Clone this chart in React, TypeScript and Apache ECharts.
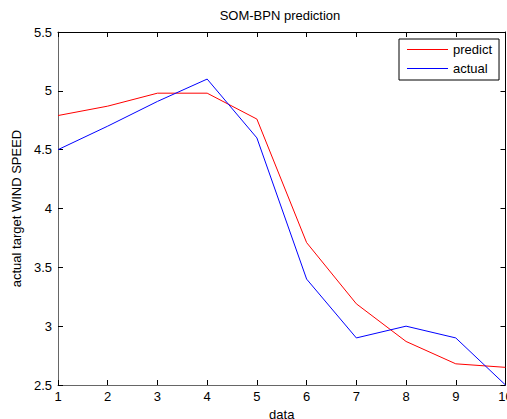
import React, { useEffect, useRef } from "react";
import * as echarts from "echarts";

const xValues = [1, 2, 3, 4, 5, 6, 7, 8, 9, 10];
const predict = [4.79, 4.87, 4.98, 4.98, 4.76, 3.71, 3.19, 2.87, 2.68, 2.65];
const actual = [4.5, 4.7, 4.91, 5.1, 4.6, 3.4, 2.9, 3.0, 2.9, 2.5];
const yTicks = [2.5, 3, 3.5, 4, 4.5, 5, 5.5];

const FONT = "'Liberation Sans', Arial, sans-serif";
const FS = 13;

export default function App() {
  const ref = useRef<HTMLDivElement>(null);
  useEffect(() => {
    if (!ref.current) return;
    const chart = echarts.init(ref.current, undefined, { renderer: "svg" });
    const pair = (ys: number[]) => xValues.map((x, i) => [x, ys[i]]);
    chart.setOption({
      animation: false,
      backgroundColor: "#ffffff",
      textStyle: { fontFamily: FONT },
      title: {
        text: "SOM-BPN prediction",
        left: 280,
        textAlign: "center",
        top: 9,
        padding: 0,
        textStyle: { fontSize: FS, fontWeight: "normal", color: "#000", fontFamily: FONT },
      },
      legend: {
        left: 399,
        top: 39,
        orient: "vertical",
        borderColor: "#000",
        borderWidth: 1,
        borderRadius: 0,
        padding: [4, 7, 5, 8],
        itemWidth: 41,
        itemHeight: 14,
        itemGap: 6,
        icon: "path://M0,0 L41,0 L41,1 L0,1 Z",
        symbolKeepAspect: true,
        textStyle: { fontSize: FS, color: "#000", fontFamily: FONT },
        data: ["predict", "actual"],
      },
      grid: { left: 58, right: 1.5, top: 32, bottom: 34, outerBoundsMode: "none", containLabel: false },
      xAxis: [
        {
          type: "value",
          min: 1,
          max: 10,
          interval: 1,
          name: "data",
          nameLocation: "middle",
          nameGap: 20,
          nameTextStyle: { fontSize: FS, lineHeight: 13, color: "#000", fontFamily: FONT, verticalAlign: "top" },
          axisLine: { show: true, lineStyle: { color: "#666", width: 1 } },
          axisTick: { show: true, inside: true, length: 5, lineStyle: { color: "#000" } },
          axisLabel: { margin: 5, fontSize: FS, color: "#000", fontFamily: FONT, hideOverlap: false },
          splitLine: { show: false },
        },
        {
          type: "value",
          position: "top",
          min: 1,
          max: 10,
          interval: 1,
          axisLine: { show: true, lineStyle: { color: "#000", width: 1 } },
          axisTick: { show: true, inside: true, length: 5, lineStyle: { color: "#000" } },
          axisLabel: { show: false },
          splitLine: { show: false },
        },
      ],
      yAxis: [
        {
          type: "value",
          min: 2.5,
          max: 5.5,
          interval: 0.5,
          name: "actual target WIND SPEED",
          nameLocation: "middle",
          nameGap: 31,
          nameTextStyle: { fontSize: FS, color: "#000", fontFamily: FONT },
          axisLine: { show: true, lineStyle: { color: "#666", width: 1 } },
          axisTick: { show: true, inside: true, length: 5, lineStyle: { color: "#000" } },
          axisLabel: {
            margin: 6,
            fontSize: FS,
            color: "#000",
            fontFamily: FONT,
            formatter: (v: number) => (yTicks.includes(v) ? String(v) : ""),
          },
          splitLine: { show: false },
        },
        {
          type: "value",
          position: "right",
          min: 2.5,
          max: 5.5,
          interval: 0.5,
          axisLine: { show: true, lineStyle: { color: "#000", width: 1 } },
          axisTick: { show: true, inside: true, length: 5, lineStyle: { color: "#000" } },
          axisLabel: { show: false },
          splitLine: { show: false },
        },
      ],
      series: [
        {
          name: "predict",
          type: "line",
          data: pair(predict),
          symbol: "none",
          lineStyle: { color: "#ff0000", width: 1 },
          itemStyle: { color: "#ff0000" },
        },
        {
          name: "actual",
          type: "line",
          data: pair(actual),
          symbol: "none",
          lineStyle: { color: "#0000ff", width: 1 },
          itemStyle: { color: "#0000ff" },
        },
      ],
    });
    return () => chart.dispose();
  }, []);
  return (
    <div
      ref={ref}
      style={{ position: "fixed", left: 0, top: 0, width: 507, height: 419 }}
    />
  );
}
